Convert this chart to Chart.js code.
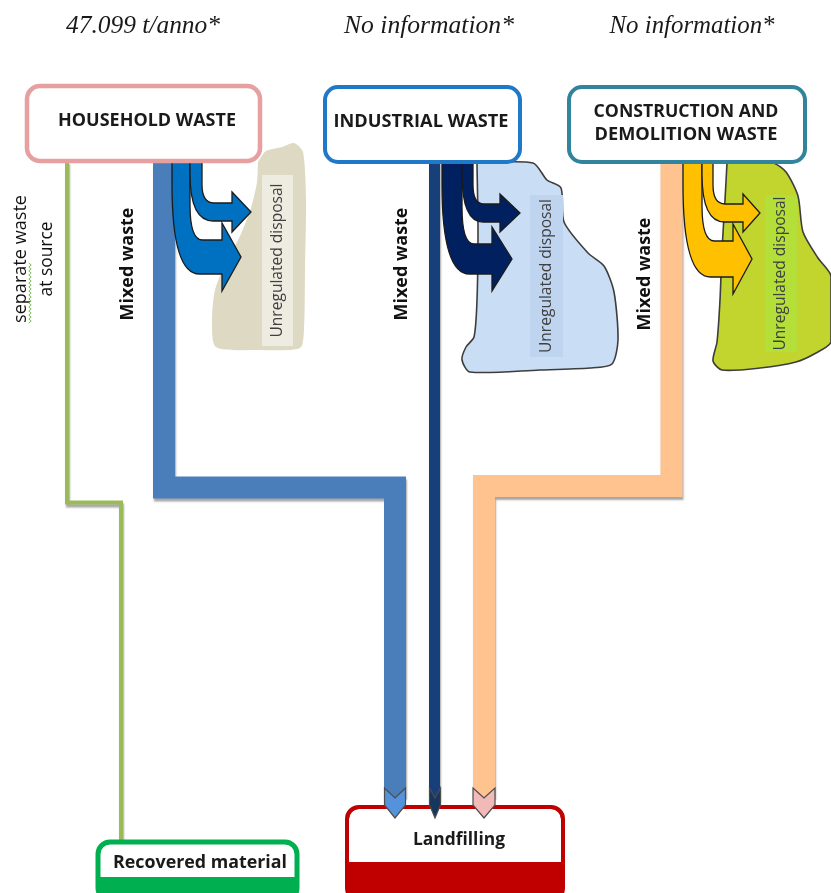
<!DOCTYPE html>
<html lang="en">
<head>
<meta charset="UTF-8">
<title>Waste flows</title>
<script src="https://cdn.jsdelivr.net/npm/chart.js"></script>
<style>
    html, body { margin: 0; padding: 0; background: #fff; }
    #wrap { width: 831px; height: 893px; }
</style>
</head>
<body>
<div id="wrap"><canvas id="chart" width="831" height="893"></canvas></div>
<script>
// ---- data ----
const sourceNames = ['HOUSEHOLD WASTE', 'INDUSTRIAL WASTE', 'CONSTRUCTION AND|DEMOLITION WASTE'];
const sourceAmounts = ['47.099 t/anno*', 'No information*', 'No information*'];
const flowNames = ['Mixed waste', 'Mixed waste', 'Mixed waste'];
const separateName = ['separate waste', 'at source'];
const disposalName = 'Unregulated disposal';
const destNames = ['Recovered material', 'Landfilling'];

// ---- diagram geometry, in diagram units (x 0..831, y 0..893 from top) ----
const sourceBoxes = [[27, 86, 260, 161], [325, 87, 520, 162], [569, 87, 805, 162]];
const amountPos = [[143, 26], [429, 26], [692, 26]];
const mixedPaths = [
    [[164, 161], [164, 487.5], [395, 487.5], [395, 797]],
    [[434.5, 161], [434.5, 800]],
    [[671.5, 161], [671.5, 486], [484, 486], [484, 797]]
];
const separatePath = [[67, 161], [67, 502.5], [121, 502.5], [121, 844]];
const dumpAreas = [
    [[258, 162], [266, 151], [282, 147], [294, 143], [303, 152], [306, 200], [305, 270], [304, 330], [300, 348], [258, 350], [216, 347], [212, 320], [215, 290], [226, 262], [240, 236], [251, 208], [257, 182], [258, 162]],
    [[477, 163], [533, 163], [547, 180], [561, 188], [564, 222], [588, 253], [604, 266], [614, 292], [618, 340], [612, 364], [590, 368], [540, 370], [470, 372], [462, 360], [466, 347], [474, 337], [477, 300], [478, 230], [477, 163]],
    [[727, 163], [773, 163], [786, 172], [798, 196], [803, 232], [818, 258], [831, 276], [831, 342], [816, 353], [796, 362], [760, 368], [722, 370], [713, 361], [717, 342], [720, 300], [722, 250], [725, 200], [727, 163]]
];
const dumpLabels = [[262, 175, 293, 346], [530, 195, 563, 357], [765, 195, 797, 352]];
const flowLabelPos = [[128, 264], [402, 264], [645, 274]];
const separatePos = [[21, 259], [47, 259]];
// curved arrows: left edge, shaft width, top, mid y of head, thickness at head, head base x, tip x, head half height
const spillArrows = [
    [{left: 172, shaft: 18, top: 162, mid: 257, thick: 34, base: 222, tip: 241, head: 34},
     {left: 190, shaft: 12, top: 162, mid: 212, thick: 18, base: 232, tip: 251, head: 20}],
    [{left: 442, shaft: 20, top: 162, mid: 259, thick: 30, base: 492, tip: 512, head: 32},
     {left: 462, shaft: 11, top: 162, mid: 213, thick: 18, base: 500, tip: 520, head: 19}],
    [{left: 683, shaft: 19, top: 162, mid: 259, thick: 36, base: 733, tip: 752, head: 35},
     {left: 702, shaft: 11, top: 162, mid: 213, thick: 18, base: 743, tip: 760, head: 19}]
];
const chevrons = [[395, 21], [435, 11], [484, 22]];
const destBoxes = [[98, 842, 297, 900, 877], [347, 807, 563, 900, 862]];
const destTextPos = [[200, 863], [459, 840]];

// ---- styles ----
const bandColors = ['#4a7ebb', '#17407a', '#fec38e'];
const bandWidths = [22, 11, 22];
const spillColors = ['#0070c0', '#002060', '#ffc000'];
const chevronColors = ['#5592dc', '#17365d', '#f2b9b9'];
const dumpFill = ['#ddd9c3', '#c9ddf5', '#c2d52e'];
const dumpLabelFill = ['#eeece1', '#bfd4ee', '#b3df38'];
const boxBorders = ['#e6a0a0', '#1f78c8', '#31849b'];
const destColors = ['#00b050', '#c00000'];

const fitFont = (ctx, str, style, family, width) => {
    ctx.font = style + ' 20px ' + family;
    const size = 20 * width / ctx.measureText(str).width;
    return style + ' ' + size.toFixed(2) + 'px ' + family;
};

function drawText(ctx, str, cx, cy, style, family, width, color, rot) {
    ctx.save();
    ctx.translate(cx, cy);
    if (rot) ctx.rotate(rot);
    ctx.font = fitFont(ctx, str, style, family, width);
    ctx.fillStyle = color;
    ctx.textAlign = 'center';
    ctx.textBaseline = 'middle';
    ctx.fillText(str, 0, 0);
    ctx.restore();
}

function roundRect(ctx, x0, y0, x1, y1, r) {
    ctx.beginPath();
    ctx.roundRect(x0, y0, x1 - x0, y1 - y0, r);
}

function drawSpill(ctx, sx, sy, a, fill) {
    const L = sx(a.left), R = sx(a.left + a.shaft), T = sy(a.top);
    const ym = sy(a.mid), yo = sy(a.mid + a.thick / 2), yi = sy(a.mid - a.thick / 2);
    const hb = sx(a.base), tp = sx(a.tip), hh = a.head;
    ctx.beginPath();
    ctx.moveTo(L, T);
    ctx.lineTo(L, T + (yo - T) * 0.2);
    ctx.quadraticCurveTo(L, yo, L + (hb - L) * 0.55, yo);
    ctx.lineTo(hb, yo);
    ctx.lineTo(hb, ym + hh);
    ctx.lineTo(tp, ym);
    ctx.lineTo(hb, ym - hh);
    ctx.lineTo(hb, yi);
    ctx.lineTo(R + (hb - R) * 0.4, yi);
    ctx.quadraticCurveTo(R, yi, R, yi - (yi - T) * 0.45);
    ctx.lineTo(R, T);
    ctx.closePath();
    ctx.fillStyle = fill;
    ctx.fill();
    ctx.strokeStyle = '#1b1b1b';
    ctx.lineWidth = 1.3;
    ctx.stroke();
}

const diagramPlugin = {
    id: 'diagram',
    beforeDatasetDraw(chart, args) {
        const ds = chart.data.datasets[args.index];
        if (ds.shadow) {
            chart.ctx.save();
            chart.ctx.shadowColor = 'rgba(0,0,0,0.35)';
            chart.ctx.shadowOffsetY = 3;
            chart.ctx.shadowOffsetX = 1;
            chart.ctx.shadowBlur = 2;
        }
    },
    afterDatasetDraw(chart, args) {
        if (chart.data.datasets[args.index].shadow) chart.ctx.restore();
    },
    afterDatasetsDraw(chart) {
        const ctx = chart.ctx;
        const sx = v => chart.scales.x.getPixelForValue(v);
        const sy = v => chart.scales.y.getPixelForValue(v);
        const sans = '"Open Sans", sans-serif';

        // labels on the dump areas
        dumpLabels.forEach((r, i) => {
            ctx.fillStyle = dumpLabelFill[i];
            ctx.fillRect(sx(r[0]), sy(r[1]), sx(r[2]) - sx(r[0]), sy(r[3]) - sy(r[1]));
            drawText(ctx, disposalName, sx((r[0] + r[2]) / 2), sy((r[1] + r[3]) / 2), '400', sans, 154, '#404040', -Math.PI / 2);
        });

        // spill arrows
        spillArrows.forEach((pair, i) => pair.forEach(a => drawSpill(ctx, sx, sy, a, spillColors[i])));

        // source boxes
        sourceBoxes.forEach((b, i) => {
            roundRect(ctx, sx(b[0]), sy(b[1]), sx(b[2]), sy(b[3]), 13);
            ctx.fillStyle = '#fff';
            ctx.fill();
            ctx.strokeStyle = boxBorders[i];
            ctx.lineWidth = i === 0 ? 4.5 : 4;
            ctx.stroke();
        });
        drawText(ctx, sourceNames[0].split('|')[0], sx(147), sy(121), '700', sans, 178, '#1a1a1a');
        drawText(ctx, sourceNames[1].split('|')[0], sx(421), sy(122), '700', sans, 175, '#1a1a1a');
        const cd = sourceNames[2].split('|');
        drawText(ctx, cd[0], sx(686), sy(112), '700', sans, 185, '#1a1a1a');
        drawText(ctx, cd[1], sx(686), sy(135), '700', sans, 183, '#1a1a1a');

        // amounts above the sources
        const amountWidths = [154, 170, 165];
        sourceAmounts.forEach((t, i) => {
            drawText(ctx, t, sx(amountPos[i][0]), sy(amountPos[i][1]), 'italic 400', '"Liberation Serif", serif', amountWidths[i], '#1a1a1a');
        });

        // flow labels
        flowNames.forEach((t, i) => {
            drawText(ctx, t, sx(flowLabelPos[i][0]), sy(flowLabelPos[i][1]), '700', sans, 113, '#111', -Math.PI / 2);
        });
        drawText(ctx, separateName[0], sx(separatePos[0][0]), sy(separatePos[0][1]), '400', sans, 128, '#111', -Math.PI / 2);
        drawText(ctx, separateName[1], sx(separatePos[1][0]), sy(separatePos[1][1]), '400', sans, 75, '#111', -Math.PI / 2);
        // spell-check squiggle under "separate"
        ctx.save();
        ctx.strokeStyle = '#7fbf5a';
        ctx.lineWidth = 1;
        ctx.beginPath();
        const ux = sx(separatePos[0][0]) + 9;
        for (let k = 0; k <= 30; k++) {
            const yy = sy(323) - k * 2;
            const xx = ux + (k % 2 ? 1.2 : -1.2);
            k ? ctx.lineTo(xx, yy) : ctx.moveTo(xx, yy);
        }
        ctx.stroke();
        ctx.restore();

        // destination boxes
        destBoxes.forEach((b, i) => {
            const x0 = sx(b[0]), y0 = sy(b[1]), x1 = sx(b[2]), y1 = sy(b[3]), yf = sy(b[4]);
            roundRect(ctx, x0, y0, x1, y1, 12);
            ctx.fillStyle = destColors[i];
            ctx.fill();
            ctx.fillStyle = '#fff';
            roundRect(ctx, x0 + 2, y0 + 2, x1 - 2, yf, [10, 10, 0, 0]);
            ctx.fill();
            roundRect(ctx, x0, y0, x1, y1, 12);
            ctx.strokeStyle = destColors[i];
            ctx.lineWidth = i === 0 ? 5 : 4;
            ctx.stroke();
        });
        drawText(ctx, destNames[0], sx(destTextPos[0][0]), sy(destTextPos[0][1]), '700', sans, 174, '#1a1a1a');
        drawText(ctx, destNames[1], sx(destTextPos[1][0]), sy(destTextPos[1][1]), '700', sans, 92, '#1a1a1a');

        // chevrons into the landfill, over its top edge
        chevrons.forEach(([c, w], i) => {
            const l = sx(c - w / 2), r = sx(c + w / 2), m = sx(c);
            const top = sy(788), notch = sy(798), side = sy(805), tip = sy(818);
            ctx.beginPath();
            ctx.moveTo(l, top);
            ctx.lineTo(m, notch);
            ctx.lineTo(r, top);
            ctx.lineTo(r, side);
            ctx.lineTo(m, tip);
            ctx.lineTo(l, side);
            ctx.closePath();
            ctx.fillStyle = chevronColors[i];
            ctx.fill();
            ctx.strokeStyle = '#4d4d4d';
            ctx.lineWidth = 1.2;
            ctx.stroke();
        });
    }
};

const toPts = arr => arr.map(([x, y]) => ({x, y}));
const datasets = [];
mixedPaths.forEach((p, i) => datasets.push({
    label: flowNames[i], data: toPts(p), showLine: true, shadow: true,
    borderColor: bandColors[i], borderWidth: bandWidths[i], pointRadius: 0,
    borderJoinStyle: 'miter', borderCapStyle: 'butt', fill: false, order: 5
}));
datasets.push({
    label: separateName.join(' '), data: toPts(separatePath), showLine: true, shadow: true,
    borderColor: '#9bbb59', borderWidth: 4, pointRadius: 0,
    borderJoinStyle: 'miter', borderCapStyle: 'butt', fill: false, order: 5
});
dumpAreas.forEach((p, i) => datasets.push({
    label: disposalName, data: toPts(p), showLine: true,
    borderColor: i === 0 ? 'rgba(0,0,0,0)' : '#3d3d3d', borderWidth: i === 0 ? 0 : 1.6,
    backgroundColor: dumpFill[i], fill: 'shape', tension: 0.25, pointRadius: 0, order: 20
}));

const chart = new Chart(document.getElementById('chart'), {
    type: 'scatter',
    data: { datasets },
    options: {
        responsive: false,
        maintainAspectRatio: false,
        animation: false,
        layout: { padding: 0 },
        scales: {
            x: { type: 'linear', min: 0, max: 831, display: false },
            y: { type: 'linear', min: 0, max: 893, reverse: true, display: false }
        },
        plugins: { legend: { display: false }, tooltip: { enabled: false } }
    },
    plugins: [diagramPlugin]
});
</script>
</body>
</html>
